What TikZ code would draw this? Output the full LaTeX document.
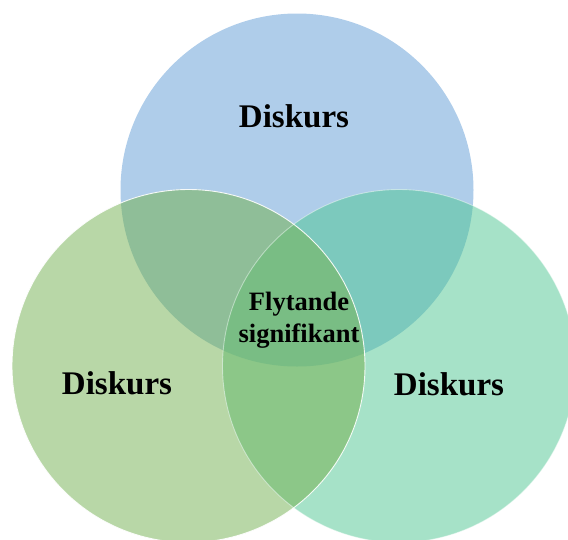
\documentclass[tikz,border=0pt]{standalone}
\usepackage{fontspec}
\setmainfont{Liberation Serif}
\definecolor{cblue}{HTML}{AFCDEA}
\definecolor{cleft}{HTML}{B8D7A7}
\definecolor{cright}{HTML}{A6E2C8}
\definecolor{cTL}{HTML}{8FBE98}
\definecolor{cTR}{HTML}{7CC9BD}
\definecolor{cLR}{HTML}{8CC788}
\definecolor{cmid}{HTML}{79BD84}
\tikzset{
  lbl/.style={font=\bfseries\fontsize{33}{38}\selectfont, text=black, inner sep=0pt},
  midlbl/.style={font=\bfseries\fontsize{26.5}{32}\selectfont, text=black, align=center, inner sep=0pt},
  rim/.style={draw=white, line width=0.9pt}
}
\def\cT{(297,190) circle[radius=176.5]}
\def\cL{(188.5,366) circle[radius=176.5]}
\def\cR{(399,366) circle[radius=176.5]}
\begin{document}
\begin{tikzpicture}[x=1pt,y=-1pt]
\useasboundingbox (0,0) rectangle (568,539);
\clip (0,0) rectangle (568,539);
\fill[cblue] \cT;
\fill[cleft] \cL;
\fill[cright] \cR;
\begin{scope}
  \clip \cT;
  \fill[cTL] \cL;
  \fill[cTR] \cR;
\end{scope}
\begin{scope}
  \clip \cL;
  \fill[cLR] \cR;
\end{scope}
\begin{scope}
  \clip \cT;
  \clip \cL;
  \fill[cmid] \cR;
\end{scope}
\draw[rim, draw opacity=0.45] \cR;
\draw[rim, draw opacity=0.9] \cL;
\node[lbl] (top) at (294,116) {Diskurs};
\node[lbl] (left) at (117,383) {Diskurs};
\node[lbl] (right) at (449,384) {Diskurs};
\node[midlbl] (mid) at (299,320) {Flytande\\signifikant};
\end{tikzpicture}
\end{document}
